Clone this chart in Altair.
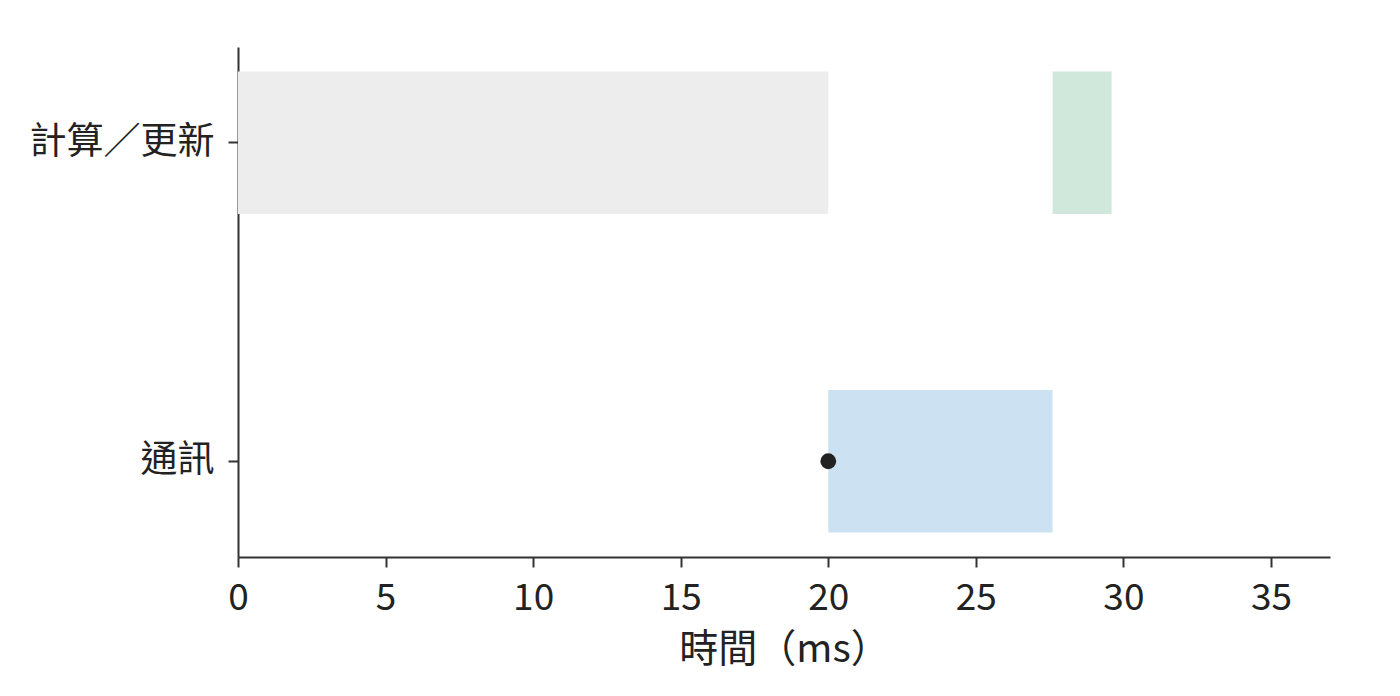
import altair as alt
import pandas as pd

# Data
categories = ["計算／更新", "計算／更新", "通訊"]
phases = ["compute", "update", "comm"]
starts = [0.0, 27.6, 20.0]
ends = [20.0, 29.6, 27.6]
phase_colors = ["#ededed", "#d0e8db", "#cce2f2"]

point_category = ["通訊"]
point_x = [20.0]

row_order = ["計算／更新", "通訊"]
x_ticks = [0, 5, 10, 15, 20, 25, 30, 35]

bars_df = pd.DataFrame({"cat": categories, "phase": phases, "start": starts, "end": ends})
pts_df = pd.DataFrame({"cat": point_category, "x": point_x})

FONT = "Noto Sans CJK TC"

y_enc = alt.Y(
    "cat:N",
    sort=row_order,
    title=None,
    scale=alt.Scale(paddingInner=0.553, paddingOuter=0.077),
    axis=alt.Axis(
        labelFontSize=37, labelColor="#222222", labelPadding=14, labelFont=FONT,
        labelLimit=0,
        tickSize=10, tickWidth=2, tickColor="#333333",
        domainColor="#333333", domainWidth=2, grid=False,
    ),
)

x_scale = alt.Scale(domain=[0, 37], nice=False, zero=False)
x_axis = alt.Axis(
    values=x_ticks, grid=False, title="時間（ms）", titleFontSize=39,
    titleFont=FONT, titleFontWeight="normal", titleColor="#222222", titlePadding=14,
    labelFontSize=37, labelColor="#222222", labelFont=FONT, labelPadding=13,
    labelFlush=False,
    tickSize=10, tickWidth=2, tickColor="#333333",
    domainColor="#333333", domainWidth=2,
)

bars = alt.Chart(bars_df).mark_bar(cornerRadius=0).encode(
    x=alt.X("start:Q", scale=x_scale, axis=x_axis),
    x2="end:Q",
    y=y_enc,
    color=alt.Color("phase:N", scale=alt.Scale(domain=phases, range=phase_colors), legend=None),
)

pts = alt.Chart(pts_df).mark_point(filled=True, opacity=1, size=250, color="#222222").encode(
    x=alt.X("x:Q", scale=x_scale),
    y=alt.Y("cat:N", sort=row_order),
)

chart = alt.layer(bars, pts).properties(
    width=1092, height=510,
    autosize=alt.AutoSizeParams(type="none"),
    padding={"left": 230, "top": 39, "right": 40, "bottom": 120},
).configure(font=FONT, background="white").configure_view(stroke=None)

chart.save("out.html", embed_options={"renderer": "svg", "actions": False})
